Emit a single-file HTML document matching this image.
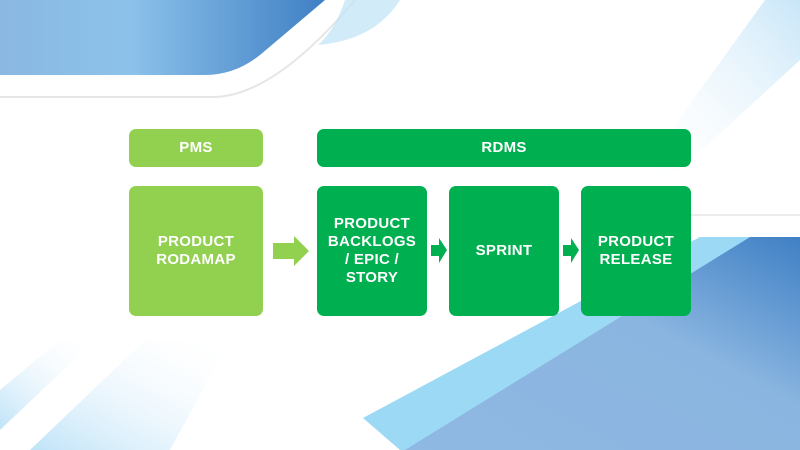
<!DOCTYPE html>
<html><head><style>
html,body{margin:0;padding:0;width:800px;height:450px;overflow:hidden;background:#fff;font-family:"Liberation Sans",Arial,sans-serif}
.b{position:absolute;border-radius:7px;color:#fff;font-weight:bold;font-size:15px;display:flex;align-items:center;justify-content:center;text-align:center;line-height:18px;letter-spacing:0.3px;box-sizing:border-box}
.lg{background:#92d050}.dg{background:#00b050}
</style></head><body>
<svg width="800" height="450" style="position:absolute;left:0;top:0">
<defs>
<linearGradient id="g1" x1="0" y1="0" x2="1" y2="0"><stop offset="0" stop-color="#8ab8e3"/><stop offset="0.4" stop-color="#8cc2ea"/><stop offset="1" stop-color="#3f7fc4"/></linearGradient>
<linearGradient id="g2" x1="0" y1="1" x2="1" y2="0"><stop offset="0" stop-color="#8fb8e2"/><stop offset="0.6" stop-color="#8ab5e0"/><stop offset="1" stop-color="#3f80c5"/></linearGradient>
<linearGradient id="g3" x1="0" y1="1" x2="1" y2="0"><stop offset="0" stop-color="#fff" stop-opacity="0"/><stop offset="1" stop-color="#c8e6f8"/></linearGradient>
<linearGradient id="g4" x1="0" y1="1" x2="1" y2="0"><stop offset="0" stop-color="#bfe3f8"/><stop offset="1" stop-color="#fff" stop-opacity="0"/></linearGradient>
</defs>
<path d="M0,97 L215,97 Q275,95 355,0" fill="none" stroke="#e6e6e6" stroke-width="2"/>
<path d="M345,0 L400,0 Q375,40 318,45 Q335,30 345,0 Z" fill="#bfe2f6" opacity="0.7"/>
<path d="M0,0 L325,0 L260,55 Q235,75 205,75 L0,75 Z" fill="url(#g1)"/>
<path d="M765,0 L800,0 L800,60 L680,170 L635,180 Z" fill="url(#g3)"/>
<line x1="690" y1="215" x2="800" y2="215" stroke="#e6e6e6" stroke-width="1.5"/>
<path d="M700,237 L750,237 L410,450 L400,450 L363,418 Z" fill="#9bd9f5"/>
<path d="M750,237 L800,237 L800,450 L405,450 Z" fill="url(#g2)"/>
<path d="M0,390 L60,340 L95,340 L0,430 Z" fill="url(#g4)"/>
<path d="M30,450 L145,340 L230,340 L170,450 Z" fill="url(#g4)"/>
</svg>
<div class="b lg" style="left:129px;top:129px;width:134px;height:38px">PMS</div>
<div class="b dg" style="left:317px;top:129px;width:374px;height:38px">RDMS</div>
<div class="b lg" style="left:129px;top:186px;width:134px;height:130px">PRODUCT<br>RODAMAP</div>
<div class="b dg" style="left:317px;top:186px;width:110px;height:130px">PRODUCT<br>BACKLOGS<br>/ EPIC /<br>STORY</div>
<div class="b dg" style="left:449px;top:186px;width:110px;height:130px">SPRINT</div>
<div class="b dg" style="left:581px;top:186px;width:110px;height:130px">PRODUCT<br>RELEASE</div>
<svg width="800" height="450" style="position:absolute;left:0;top:0">
<path d="M273,243 L294,243 L294,236 L309,251 L294,266 L294,259 L273,259 Z" fill="#92d050"/>
<path d="M431,245 L439,245 L439,238 L447,250 L439,263 L439,256 L431,256 Z" fill="#00b050"/>
<path d="M563,245 L571,245 L571,238 L579,250 L571,263 L571,256 L563,256 Z" fill="#00b050"/>
</svg>
</body></html>
